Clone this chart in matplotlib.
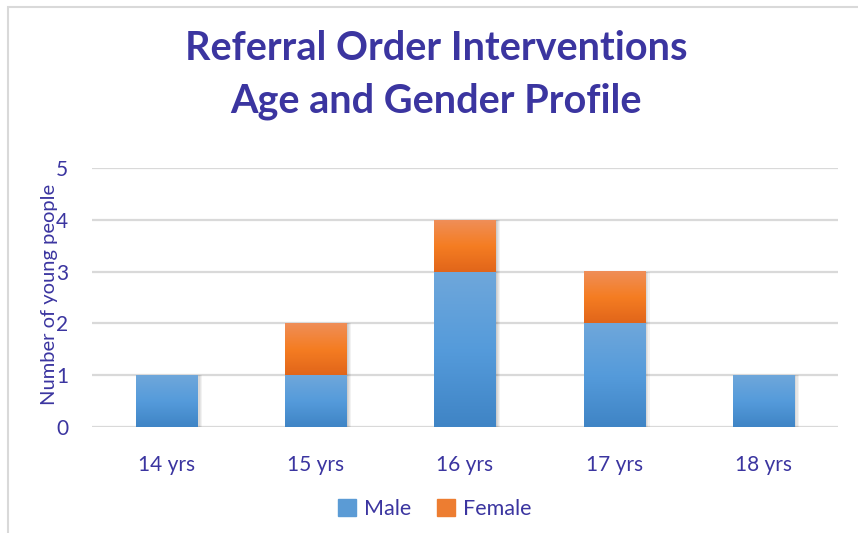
import numpy as np
import matplotlib
matplotlib.use("Agg")
import matplotlib.pyplot as plt
from matplotlib.colors import LinearSegmentedColormap
from matplotlib.patches import Rectangle, Patch

# chart data
ages = ["14 yrs", "15 yrs", "16 yrs", "17 yrs", "18 yrs"]
male = [1, 1, 3, 2, 1]
female = [0, 1, 1, 1, 0]

TEXT = "#3B35A0"
plt.rcParams['font.family'] = ['Lato', 'DejaVu Sans']

blue_cm = LinearSegmentedColormap.from_list("b", ["#3F84C5", "#559BDB", "#6FA7DA"])
orange_cm = LinearSegmentedColormap.from_list("o", ["#E1651A", "#F57D22", "#EF8E58"])


def gradient_bars(ax, bars, cmap):
    grad = np.linspace(0, 1, 256).reshape(-1, 1)
    for b in bars:
        x0, y0 = b.get_x(), b.get_y()
        w, h = b.get_width(), b.get_height()
        if h <= 0:
            continue
        # soft shadow on the right
        for k in [0.008, 0.016, 0.024, 0.032]:
            ax.add_patch(Rectangle((x0 + k, y0), w, h, color="#000000",
                                   alpha=0.05, lw=0, zorder=2))
        ax.imshow(grad, extent=[x0, x0 + w, y0, y0 + h], origin="lower",
                  aspect="auto", cmap=cmap, zorder=3)


def main():
    fig = plt.figure(figsize=(8.58, 5.33), dpi=100)
    ax = fig.add_axes([92 / 858, 1 - 427 / 533, 746 / 858, 259 / 533])

    x = np.arange(len(ages))
    width = 0.41
    mbars = ax.bar(x, male, width, color="none", zorder=3)
    fbars = ax.bar(x, female, width, bottom=male, color="none", zorder=3)
    gradient_bars(ax, mbars, blue_cm)
    gradient_bars(ax, fbars, orange_cm)

    ax.set_xlim(-0.5, len(ages) - 0.5)
    ax.set_ylim(0, 5)
    ax.set_yticks(range(6))
    ax.set_xticks(x)
    ax.set_xticklabels(ages)
    ax.grid(axis="y", color="#D9D9D9", lw=1.6, zorder=0)
    ax.set_axisbelow(True)
    for s in ax.spines.values():
        s.set_visible(False)
    ax.tick_params(length=0, labelsize=15, labelcolor=TEXT)
    ax.tick_params(axis="y", pad=17)
    ax.tick_params(axis="x", pad=20)

    # label sits on top of the tick numbers, as in the original
    ax.set_ylabel("Number of young people", fontsize=14.5, color=TEXT)
    ax.yaxis.set_label_coords(-0.046, 0.51)

    fig.text(0.508, 1 - 48 / 533, "Referral Order Interventions", ha="center",
             va="center", fontsize=28.5, fontweight="bold", color=TEXT)
    fig.text(0.508, 1 - 101 / 533, "Age and Gender Profile", ha="center",
             va="center", fontsize=28.5, fontweight="bold", color=TEXT)

    handles = [Patch(color="#5B9BD5", label="Male"),
               Patch(color="#ED7D31", label="Female")]
    fig.legend(handles=handles, loc="center", bbox_to_anchor=(0.507, 1 - 509 / 533),
               ncol=2, frameon=False, fontsize=15.5, handlelength=0.8,
               handleheight=0.8, columnspacing=1.2, handletextpad=0.4,
               labelcolor=TEXT)

    # outer border (left and top edges visible)
    fig.add_artist(Rectangle((8 / 858, -0.1), 1.2, 1 - 7 / 533 + 0.1,
                             transform=fig.transFigure, fill=False,
                             edgecolor="#D9D9D9", lw=1.5))

    fig.savefig("out.png", dpi=100)


if __name__ == "__main__":
    main()
